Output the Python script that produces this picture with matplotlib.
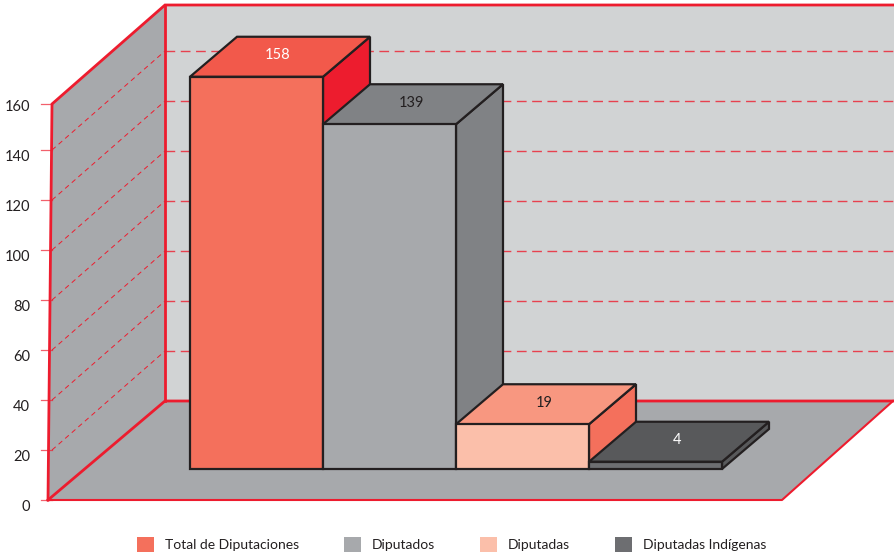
import matplotlib
matplotlib.use("Agg")
import matplotlib.pyplot as plt
from matplotlib.patches import Patch, Polygon

plt.rcParams["font.family"] = ["Lato", "DejaVu Sans"]

categories = ["Total de Diputaciones", "Diputados", "Diputadas", "Diputadas Indígenas"]
values = [158, 139, 19, 4]
value_colors = ["white", "#231f20", "#231f20", "white"]
yticks = [0, 20, 40, 60, 80, 100, 120, 140, 160]

front_colors = ["#f4705c", "#a7a9ac", "#fbbfaa", "#6d6e71"]
top_colors = ["#f2594b", "#808285", "#f89780", "#58595b"]
side_colors = ["#ed1c2e", "#808285", "#f4705c", "#58595b"]

RED = "#ed1c2e"
EDGE = "#231f20"
WALL = "#a7a9ac"
BACK = "#d1d3d4"

# x is in pixels across the figure, y is the chart's value scale (2.5 px per unit)
WALL_DX = 113
WALL_DV = 39.6
WALL_TOP = 158.4
FLOOR_X0 = 48
FLOOR_X1 = 782
FIG_R = 894

BAR_X0 = 190
BAR_W = 133
BAR_DX = 47
BAR_DV = 16
BAR_BASE = 12.4
BAR_LIFT = 11.3


def quad(ax, pts, color, edge="none", lw=0, z=1):
    ax.add_patch(Polygon(pts, closed=True, facecolor=color, edgecolor=edge,
                         linewidth=lw, joinstyle="miter", zorder=z))


fig = plt.figure(figsize=(8.94, 5.58), dpi=100)
ax = fig.add_axes([0, 0, 1, 1])
ax.set_xlim(0, FIG_R)
ax.set_ylim(-23.2, 200)
for s in ax.spines.values():
    s.set_visible(False)
ax.set_xticks([])

back_x = FLOOR_X0 + WALL_DX + 4
side_x = FLOOR_X0 + 4

# walls and floor
quad(ax, [(back_x, WALL_DV), (FIG_R, WALL_DV), (FIG_R, WALL_TOP + WALL_DV), (back_x, WALL_TOP + WALL_DV)], BACK)
quad(ax, [(FLOOR_X0, 0), (back_x, WALL_DV), (back_x, WALL_TOP + WALL_DV), (side_x, WALL_TOP)], WALL)
quad(ax, [(FLOOR_X0, 0), (back_x, WALL_DV), (FIG_R - 1, WALL_DV), (FLOOR_X1, 0)], WALL)

# dashed grid on side wall and back wall
for v in yticks[1:-1]:
    ax.plot([side_x, back_x], [v, v + WALL_DV], color=RED, lw=0.7, dashes=(5, 4), zorder=2)
    ax.plot([back_x, FIG_R], [v + WALL_DV, v + WALL_DV], color=RED, lw=1.0, alpha=0.8,
            dashes=(7, 4), zorder=2)

# red frame
ax.plot([FLOOR_X0, side_x, back_x, FIG_R], [0, WALL_TOP, WALL_TOP + WALL_DV, WALL_TOP + WALL_DV],
        color=RED, lw=2, solid_joinstyle="miter", zorder=3)
ax.plot([back_x, back_x], [WALL_DV, WALL_TOP + WALL_DV], color=RED, lw=2, zorder=3)
ax.plot([FLOOR_X0, back_x, FIG_R - 1], [0, WALL_DV, WALL_DV], color=RED, lw=2, zorder=3)
ax.plot([FLOOR_X0, FLOOR_X1, FIG_R - 1], [0, 0, WALL_DV], color=RED, lw=1.5, zorder=3)

# short tick marks at the front edge
for v in yticks:
    tv = min(v, WALL_TOP)
    ax.plot([FLOOR_X0 - 7, side_x], [tv, tv], color=RED, lw=0.9, alpha=0.7, zorder=3)

# bars, left to right so each one hides the side of the previous
for i, val in enumerate(values):
    x0 = BAR_X0 + i * BAR_W
    x1 = x0 + BAR_W
    top = val + BAR_LIFT
    quad(ax, [(x1, BAR_BASE), (x1 + BAR_DX, BAR_BASE + BAR_DV), (x1 + BAR_DX, top + BAR_DV), (x1, top)],
         side_colors[i], EDGE, 1.6, z=4 + i)
    quad(ax, [(x0, top), (x1, top), (x1 + BAR_DX, top + BAR_DV), (x0 + BAR_DX, top + BAR_DV)],
         top_colors[i], EDGE, 1.6, z=4 + i)
    quad(ax, [(x0, BAR_BASE), (x1, BAR_BASE), (x1, top), (x0, top)],
         front_colors[i], EDGE, 1.6, z=4 + i)
    ax.text(x0 + (BAR_W + BAR_DX) / 2 - 2, top + BAR_DV / 2 + 0.5, str(val), color=value_colors[i],
            ha="center", va="center", fontsize=10.5, zorder=10)

# y axis labels sit inside the full-figure axes
ax.set_yticks(yticks)
ax.tick_params(axis="y", length=0, pad=-21.5, labelsize=10.5, labelcolor=EDGE)
for lab in ax.get_yticklabels():
    lab.set_va("top")

handles = [Patch(facecolor=c, edgecolor="none") for c in front_colors]
ax.legend(handles, categories, ncol=4, frameon=False, fontsize=10,
          loc="center left", bbox_to_anchor=(137 / 894, 13.5 / 558), borderaxespad=0, borderpad=0,
          handlelength=1.22, handleheight=1.22, handletextpad=0.79, columnspacing=3.24,
          labelcolor=EDGE)

fig.savefig("out.png", dpi=100)
